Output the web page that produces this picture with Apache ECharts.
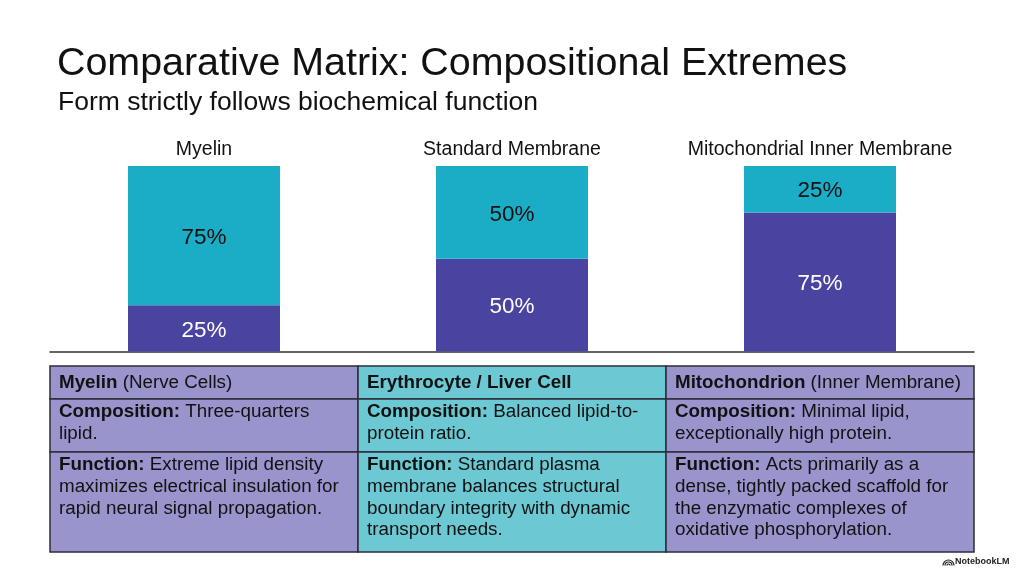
<!DOCTYPE html>
<html>
<head>
<meta charset="utf-8">
<script src="https://cdn.jsdelivr.net/npm/echarts@6/dist/echarts.min.js"></script>
<style>
  html, body { margin: 0; padding: 0; background: #ffffff; }
  #chart { width: 1024px; height: 572px; }
</style>
</head>
<body>
<div id="chart"></div>
<script>
// membrane types and their lipid / protein split (percent)
const categories = ['Myelin', 'Standard Membrane', 'Mitochondrial Inner Membrane'];
const proteinPct = [25, 50, 75];
const lipidPct = [75, 50, 25];

// comparison table text, one entry per column
const cellHeads = [
  ['Myelin', ' (Nerve Cells)'],
  ['Erythrocyte / Liver Cell', ''],
  ['Mitochondrion', ' (Inner Membrane)']
];
const compositionText = [
  'Three-quarters\nlipid.',
  'Balanced lipid-to-\nprotein ratio.',
  'Minimal lipid,\nexceptionally high protein.'
];
const functionText = [
  'Extreme lipid density\nmaximizes electrical insulation for\nrapid neural signal propagation.',
  'Standard plasma\nmembrane balances structural\nboundary integrity with dynamic\ntransport needs.',
  'Acts primarily as a\ndense, tightly packed scaffold for\nthe enzymatic complexes of\noxidative phosphorylation.'
];

const FONT = '"Liberation Sans", Arial, Helvetica, sans-serif';
const PURPLE = '#4a44a1';
const CYAN = '#1cadc6';
const LAVENDER = '#9a94cd';
const TEAL = '#6cc8d2';
const BORDER = '#2c2c38';
const CELL_FONT = 18.8;
const CELL_LH = 21.6;

const chart = echarts.init(document.getElementById('chart'), null, { renderer: 'canvas' });

// table layout
const tableLeft = 50;
const colW = 308;
const rowEdges = [366, 399, 452, 552];
const colFills = [LAVENDER, TEAL, LAVENDER];

function richLine(bold, rest) {
  const lines = rest.split('\n');
  let s = '{b|' + bold + '}';
  lines.forEach((ln, i) => {
    if (i > 0) s += '\n';
    if (ln) s += '{n|' + ln + '}';
  });
  return s;
}

const richStyle = {
  b: { fontFamily: FONT, fontSize: CELL_FONT, fontWeight: 'bold', fill: '#111', lineHeight: CELL_LH },
  n: { fontFamily: FONT, fontSize: CELL_FONT, fill: '#111', lineHeight: CELL_LH }
};

const graphics = [];
for (let c = 0; c < 3; c++) {
  for (let r = 0; r < 3; r++) {
    graphics.push({
      type: 'rect',
      shape: { x: tableLeft + c * colW, y: rowEdges[r], width: colW, height: rowEdges[r + 1] - rowEdges[r] },
      style: { fill: colFills[c], stroke: BORDER, lineWidth: 1.5 },
      z: 1
    });
  }
  const cellTexts = [
    richLine(cellHeads[c][0], cellHeads[c][1]),
    richLine('Composition:', ' ' + compositionText[c]),
    richLine('Function:', ' ' + functionText[c])
  ];
  const textTops = [372.5, 401.5, 454.5];
  cellTexts.forEach((t, r) => {
    graphics.push({
      type: 'text',
      x: tableLeft + c * colW + 9,
      y: textTops[r],
      style: { text: t, rich: richStyle, fontFamily: FONT, fontSize: CELL_FONT, fill: '#111', lineHeight: CELL_LH },
      z: 2
    });
  });
}

// watermark: small arc icon + label
[1.5, 3.5, 5.5].forEach((rad) => {
  graphics.push({
    type: 'arc',
    shape: { cx: 948.5, cy: 565.5, r: rad, startAngle: Math.PI, endAngle: 2 * Math.PI },
    style: { stroke: '#222', lineWidth: 1.2, fill: null },
    z: 2
  });
});
graphics.push({
  type: 'text',
  x: 955,
  y: 562,
  style: { text: 'NotebookLM', fontFamily: FONT, fontSize: 9, fontWeight: 'bold', fill: '#222', verticalAlign: 'middle' },
  z: 2
});

chart.setOption({
  backgroundColor: '#ffffff',
  animation: false,
  title: [
    {
      text: 'Comparative Matrix: Compositional Extremes',
      left: 57,
      top: 45,
      padding: 0,
      textStyle: { fontFamily: FONT, fontSize: 39.4, fontWeight: 'normal', color: '#111' }
    },
    {
      text: 'Form strictly follows biochemical function',
      left: 58,
      top: 89,
      padding: 0,
      textStyle: { fontFamily: FONT, fontSize: 26.5, fontWeight: 'normal', color: '#111' }
    }
  ],
  grid: { left: 50, right: 50, top: 166, bottom: 220.5 },
  xAxis: [
    {
      type: 'category',
      data: categories,
      position: 'top',
      axisLine: { show: false },
      axisTick: { show: false },
      axisLabel: { interval: 0, fontFamily: FONT, fontSize: 19.5, color: '#111', margin: 6 }
    },
    {
      type: 'category',
      data: categories,
      position: 'bottom',
      axisLine: { lineStyle: { color: '#333', width: 1.5 } },
      axisTick: { show: false },
      axisLabel: { show: false }
    }
  ],
  yAxis: { type: 'value', min: 0, max: 100, show: false },
  series: [
    {
      name: 'Protein',
      type: 'bar',
      stack: 'total',
      data: proteinPct,
      barWidth: 152,
      itemStyle: { color: PURPLE },
      label: { show: true, position: 'inside', formatter: '{c}%', color: '#ffffff', fontFamily: FONT, fontSize: 22.5, offset: [0, 2] }
    },
    {
      name: 'Lipid',
      type: 'bar',
      stack: 'total',
      data: lipidPct,
      barWidth: 152,
      itemStyle: { color: CYAN },
      label: { show: true, position: 'inside', formatter: '{c}%', color: '#111', fontFamily: FONT, fontSize: 22.5, offset: [0, 2] }
    }
  ],
  graphic: graphics
});
</script>
</body>
</html>
